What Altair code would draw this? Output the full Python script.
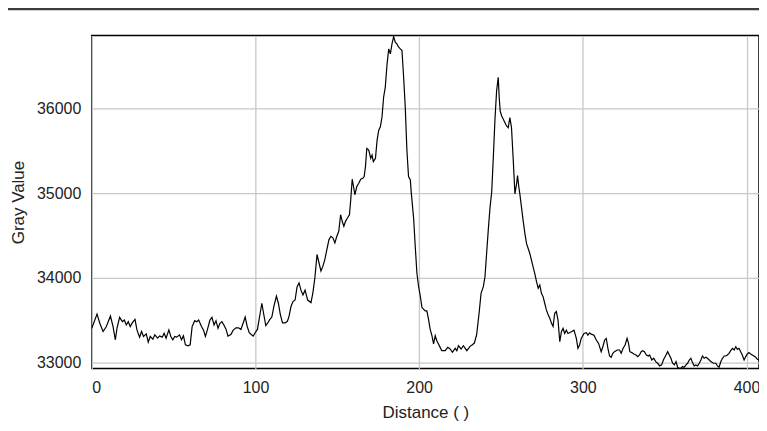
import altair as alt
import pandas as pd

distance = [
    0.0, 3.2, 4.9, 6.9, 8.9, 11.4, 13.0, 14.4, 15.4, 17.0, 18.7, 19.9, 21.1, 22.3, 23.5, 24.8,
    26.4, 27.6, 29.2, 30.4, 31.6, 33.3, 34.5, 35.7, 37.3, 38.5, 40.2, 41.4, 43.0, 44.2, 45.4,
    47.1, 48.3, 49.5, 50.7, 51.9, 53.6, 54.8, 56.0, 57.2, 58.8, 60.1, 61.3, 62.9, 64.1, 65.3,
    67.0, 68.2, 69.4, 70.6, 72.2, 73.4, 74.7, 75.9, 77.1, 78.3, 79.5, 80.7, 82.0,
    83.2, 85.0, 86.4, 88.1, 89.7, 91.1, 92.5, 93.7, 94.9, 96.2, 97.4, 98.6, 99.8, 101.2, 102.7,
    103.9, 105.1, 106.3, 107.5, 108.7, 110.0, 111.2, 112.8, 114.0, 115.2, 116.5, 118.1, 119.5,
    120.5, 121.7, 122.9, 124.2, 125.4, 126.6, 127.8, 129.0, 130.3, 131.9,
    133.9, 135.1, 136.3, 137.6, 138.8, 140.0, 141.2, 142.4, 143.6, 144.9, 146.1, 147.3, 148.5,
    149.7, 150.9, 152.0, 153.0, 154.0, 155.0, 156.2, 157.4, 158.2, 159.1, 159.9, 160.7, 161.9,
    163.1, 164.3, 165.6, 166.4, 167.2, 168.0, 169.2, 170.4, 171.2, 172.0, 173.3, 174.3, 175.3,
    176.3, 177.3, 178.3, 179.3, 180.4, 181.4, 182.4, 183.4, 184.4, 185.4, 186.4, 187.5, 188.5,
    189.5, 190.5, 191.5, 192.5, 193.5, 194.6, 195.2, 196.6, 197.6, 198.6, 199.6, 200.7, 201.7,
    203.7, 204.7, 205.7, 206.7, 207.8, 208.8, 209.8, 210.8, 211.8, 212.8, 213.8, 215.9, 217.5,
    218.9, 220.3, 222.0, 223.0, 224.0, 225.6, 227.0, 229.1,
    231.1, 232.5, 233.7, 235.1, 236.6, 237.8, 239.2, 240.2, 241.2, 242.2, 243.3, 244.3, 245.3,
    246.3, 247.3, 248.3, 248.9, 249.5, 250.4, 251.4, 252.4, 253.4, 254.4, 255.4, 256.4, 257.5,
    258.5, 259.5, 260.1, 260.9, 261.5, 262.5, 263.5, 264.6, 265.6, 266.6, 267.6, 268.6, 269.6,
    270.6, 271.7, 272.7, 273.7, 274.7, 275.7, 276.7, 277.7, 278.8, 279.8, 280.8, 281.8, 282.8,
    283.8, 284.8,
    285.9, 286.9, 287.9, 288.9, 289.9, 290.9, 293.0, 294.6, 296.0, 297.0, 298.0, 299.0, 300.7,
    302.1, 303.1, 304.1, 305.1, 306.8, 308.2, 309.6, 311.2, 312.2, 313.3, 314.3, 315.3, 316.3,
    317.3, 318.3, 319.3, 321.0, 322.4, 323.4, 324.6, 325.8, 327.0, 327.9, 328.7, 329.9, 331.1,
    332.5, 333.5, 334.6, 335.6, 336.6, 337.6, 338.8, 340.0, 340.8, 342.1, 343.3, 344.5, 345.7,
    346.9, 348.1, 349.4, 350.8, 351.8, 352.8, 353.8, 354.8, 355.9, 356.9, 357.9, 358.9, 359.9,
    360.9, 361.9, 363.0, 364.0, 365.0, 366.0, 367.0, 368.0, 369.0, 370.1, 371.1, 372.1, 373.1,
    374.1, 375.1, 376.1, 377.2, 378.2, 379.8, 381.2, 382.2, 383.2, 384.3, 385.3, 386.3, 387.3,
    388.3, 389.3, 390.3, 391.4, 392.4, 393.4, 394.4, 395.4, 396.4, 397.4, 398.5, 399.5, 400.5,
    401.5, 402.5, 403.5, 404.5, 405.6, 406.6, 407.6,
]

gray_value = [
    33402, 33570, 33461, 33363, 33422, 33547, 33422, 33266, 33402, 33531, 33480, 33500, 33441, 33480, 33422, 33469,
    33508, 33383, 33297, 33363, 33305, 33336, 33238, 33305, 33273, 33324, 33285, 33312, 33297, 33344, 33285,
    33383, 33305, 33266, 33305, 33297, 33324, 33266, 33312, 33207, 33195, 33207, 33422, 33492, 33480, 33500,
    33422, 33383, 33305, 33383, 33500, 33531, 33441, 33492, 33402, 33461, 33480, 33441, 33391,
    33310, 33329, 33380, 33407, 33407, 33388, 33465, 33535, 33426, 33349, 33329, 33310, 33349, 33388, 33562,
    33698, 33562, 33434, 33465, 33504, 33535, 33659, 33783, 33698, 33562, 33465, 33465, 33485,
    33543, 33659, 33717, 33736, 33891, 33938, 33853, 33795, 33853, 33736,
    33706, 33824, 34000, 34275, 34177, 34079, 34137, 34216, 34333, 34451, 34490, 34471, 34412,
    34490, 34549, 34745, 34667, 34608, 34667, 34706, 34745, 34922, 35165, 35079, 34981, 35079,
    35118, 35165, 35177, 35196, 35314, 35530, 35510, 35412, 35451, 35373, 35412, 35628, 35745,
    35785, 35902, 36138, 36255, 36530, 36706, 36647, 36765, 36851, 36785, 36765, 36726, 36706,
    36687, 36373, 36020, 35510, 35196, 35157, 35000, 34706, 34373, 34059, 33902, 33784, 33647,
    33608, 33608, 33510, 33392, 33314, 33216, 33314, 33255, 33216, 33176, 33137, 33137, 33176,
    33157, 33118, 33165, 33137, 33196, 33157, 33196, 33137,
    33188, 33208, 33227, 33325, 33580, 33815, 33894, 34011, 34286, 34560, 34835, 35011, 35423,
    35873, 36207, 36371, 36128, 35971, 35913, 35873, 35834, 35795, 35775, 35893, 35775, 35383,
    34991, 35109, 35207, 35070, 34991, 34835, 34678, 34521, 34403, 34345, 34286, 34207, 34129,
    34051, 33953, 33874, 33913, 33815, 33776, 33698, 33619, 33561, 33521, 33463, 33423, 33580,
    33600, 33502,
    33243, 33361, 33400, 33341, 33380, 33341, 33361, 33380, 33282, 33165, 33204, 33282, 33341,
    33349, 33321, 33349, 33333, 33321, 33263, 33223, 33125, 33184, 33263, 33282, 33165, 33074,
    33059, 33106, 33125, 33145, 33145, 33106, 33165, 33204, 33282, 33223, 33125, 33114, 33098,
    33086, 33067, 33086, 33125, 33137, 33125, 33086, 33074, 33086, 33027, 33047, 33008, 32988,
    32957, 32969, 33035, 33086, 33125, 33086, 33047, 32988, 32969, 33008, 32941, 32929, 32929,
    32949, 32941, 32969, 32988, 33027, 33047, 32996, 32957, 32969, 32957, 32988, 33027, 33074,
    33047, 33059, 33047, 33027, 33008, 32988, 32988, 32957, 32941, 33008, 33047, 33074, 33074,
    33086, 33106, 33137, 33165, 33145, 33184, 33153, 33165, 33125, 33086, 33027, 33067, 33098,
    33114, 33098, 33086, 33074, 33059, 33035, 33027,
]

x_ticks = [0, 100, 200, 300, 400]
y_ticks = [33000, 34000, 35000, 36000]

df = pd.DataFrame({"Distance": distance, "Gray": gray_value})

FONT = "Liberation Sans"

line = alt.Chart(df).mark_line(color="black", strokeWidth=1.2, clip=True).encode(
    x=alt.X(
        "Distance:Q",
        scale=alt.Scale(domain=[0, 407.6], nice=False, zero=False),
        axis=alt.Axis(
            values=x_ticks, title="Distance ( )", grid=True, ticks=False, domain=False,
            labelPadding=11, titlePadding=9, format="d",
        ),
    ),
    y=alt.Y(
        "Gray:Q",
        scale=alt.Scale(domain=[32925, 36865], nice=False, zero=False),
        axis=alt.Axis(
            values=y_ticks, title="Gray Value", grid=True, ticks=False, domain=False,
            labelPadding=11, titlePadding=9, format="d",
        ),
    ),
)

top_rule = alt.Chart(pd.DataFrame({"a": [0]})).mark_rule(
    color="#3c3c3c", strokeWidth=2.5, clip=False
).encode(x=alt.value(-89), x2=alt.value(676), y=alt.value(-26.5))

chart = (
    alt.layer(line, top_rule)
    .properties(
        width=669,
        height=334,
        padding={"left": 84, "top": 27, "right": 0, "bottom": 62},
        autosize=alt.AutoSizeParams(type="none"),
        background="white",
    )
    .configure_view(stroke="black", strokeWidth=1.5)
    .configure_axis(
        gridColor="#c8c8c8",
        gridWidth=1.3,
        labelFont=FONT,
        titleFont=FONT,
        labelFontSize=16,
        titleFontSize=17,
        labelColor="#222222",
        titleColor="#222222",
        titleFontWeight="normal",
    )
)

chart.save("out.html", embed_options={"renderer": "svg", "actions": False})
